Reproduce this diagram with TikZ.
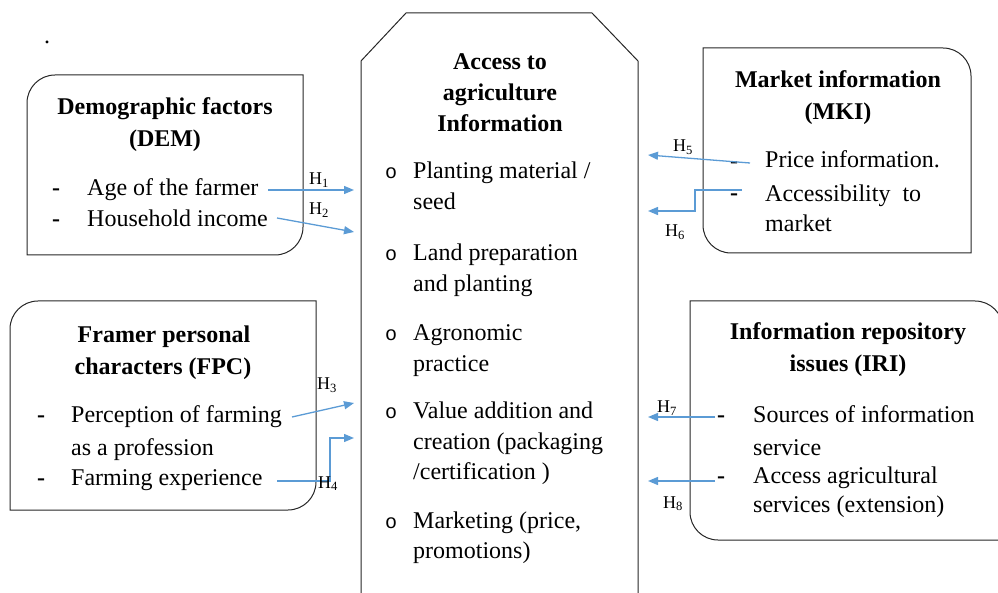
\documentclass[tikz,border=0pt]{standalone}
\usepackage{fontspec}
\setmainfont{Liberation Serif}
\newfontfamily\bulletfont{Liberation Mono}
\usetikzlibrary{arrows.meta}
\definecolor{arrowblue}{RGB}{91,155,213}
\begin{document}
\begin{tikzpicture}[x=1pt,y=1pt,
  txt/.style={anchor=base west,inner sep=0pt,font=\fontsize{24}{31}\selectfont},
  dashitem/.style={anchor=base west,inner sep=0pt,font=\fontsize{24}{31}\selectfont\bfseries},
  ttl/.style={anchor=base,inner sep=0pt,font=\fontsize{24}{31}\selectfont\bfseries},
  hlab/.style={anchor=base west,inner sep=0pt,font=\fontsize{18}{20}\selectfont},
  bul/.style={anchor=base west,inner sep=0pt,font=\bulletfont\fontsize{20}{24}\selectfont},
  frame/.style={draw=black!85,line width=1pt},
  link/.style={draw=arrowblue,line width=1.3pt,-{Triangle[length=10pt,width=8pt]}}]
\useasboundingbox (0,0) rectangle (998,592);

% stray full stop at the top left
\node[txt] (dot) at (44,548) {.};

% central frame with chamfered top corners (open at the bottom)
\draw[frame] (361,-2) -- (361,531) -- (406,579) -- (592,579) -- (638,531) -- (638,-2);

% Demographic factors box
\draw[frame] (27,337) -- (27,489) arc[start angle=180,end angle=90,radius=28]
  -- (303,517) -- (303,365) arc[start angle=0,end angle=-90,radius=28] -- cycle;
% Farmer personal characters box
\draw[frame] (10,82) -- (10,263) arc[start angle=180,end angle=90,radius=28]
  -- (316,291) -- (316,110) arc[start angle=0,end angle=-90,radius=28] -- cycle;
% Market information box
\draw[frame] (703,544) -- (943,544) arc[start angle=90,end angle=0,radius=28]
  -- (971,339) -- (731,339) arc[start angle=270,end angle=180,radius=28] -- cycle;
% Information repository box (runs past the right margin)
\draw[frame] (690,291) -- (975,291) arc[start angle=90,end angle=0,radius=28]
  -- (1003,52) -- (718,52) arc[start angle=270,end angle=180,radius=28] -- cycle;

% --- Demographic factors
\node[ttl] (demT1) at (165,477) {Demographic factors};
\node[ttl] (demT2) at (165,445) {(DEM)};
\node[dashitem] (demB1) at (52,396) {-};
\node[txt] (demI1) at (87,396) {Age of the farmer};
\node[dashitem] (demB2) at (52,365) {-};
\node[txt] (demI2) at (87,365) {Household income};

% --- Farmer personal characters
\node[ttl] (fpcT1) at (164,249) {Framer personal};
\node[ttl] (fpcT2) at (163,217) {characters (FPC)};
\node[dashitem] (fpcB1) at (37,169) {-};
\node[txt] (fpcI1) at (71,169) {Perception of farming};
\node[txt] (fpcI1b) at (71,137) {as a profession};
\node[dashitem] (fpcB2) at (37,107) {-};
\node[txt] (fpcI2) at (71,107) {Farming experience};

% --- Access to agriculture information
\node[ttl] (accT1) at (500,522) {Access to};
\node[ttl] (accT2) at (500,491) {agriculture};
\node[ttl] (accT3) at (500,460) {Information};
\node[bul] (accB1) at (385,413) {o};
\node[txt] (accI1) at (413,413) {Planting material /};
\node[txt] (accI1b) at (413,382) {seed};
\node[bul] (accB2) at (385,331) {o};
\node[txt] (accI2) at (413,331) {Land preparation};
\node[txt] (accI2b) at (413,300) {and planting};
\node[bul] (accB3) at (385,251) {o};
\node[txt] (accI3) at (413,251) {Agronomic};
\node[txt] (accI3b) at (413,220) {practice};
\node[bul] (accB4) at (385,174) {o};
\node[txt] (accI4) at (413,174) {Value addition and};
\node[txt] (accI4b) at (413,143) {creation (packaging};
\node[txt] (accI4c) at (413,113) {/certification )};
\node[bul] (accB5) at (385,64) {o};
\node[txt] (accI5) at (413,64) {Marketing (price,};
\node[txt] (accI5b) at (413,34) {promotions)};

% --- Market information
\node[ttl] (mkiT1) at (838,504) {Market information};
\node[ttl] (mkiT2) at (838,472) {(MKI)};
\node[dashitem] (mkiB1) at (730,423) {-};
\node[txt] (mkiI1) at (765,424) {Price information.};
\node[dashitem] (mkiB2) at (730,391) {-};
\node[txt] (mkiI2) at (765,390) {Accessibility\ \ to};
\node[txt] (mkiI2b) at (765,360) {market};

% --- Information repository issues
\node[ttl] (iriT1) at (848,252) {Information repository};
\node[ttl] (iriT2) at (848,220) {issues (IRI)};
\node[dashitem] (iriB1) at (717,169) {-};
\node[txt] (iriI1) at (753,169) {Sources of information};
\node[txt] (iriI1b) at (753,137) {service};
\node[dashitem] (iriB2) at (717,109) {-};
\node[txt] (iriI2) at (753,109) {Access agricultural};
\node[txt] (iriI2b) at (753,80) {services (extension)};

% --- hypothesis arrows
\coordinate (h1s) at (268,402); \coordinate (h1e) at (354,402);
\coordinate (h2s) at (277,374); \coordinate (h2e) at (354,360);
\coordinate (h3s) at (292,175); \coordinate (h3e) at (354,189);
\coordinate (h4s) at (277,111); \coordinate (h4e) at (354,154);
\coordinate (h5s) at (750,429); \coordinate (h5e) at (648,437);
\coordinate (h6s) at (742,402); \coordinate (h6e) at (648,381);
\coordinate (h7s) at (715,175); \coordinate (h7e) at (648,175);
\coordinate (h8s) at (715,111); \coordinate (h8e) at (648,111);

\draw[link] (h1s) -- (h1e);
\draw[link] (h2s) -- (h2e);
\draw[link] (h3s) -- (h3e);
\draw[link] (h4s) -- (330,111) -- (330,154) -- (h4e);
\draw[link] (h5s) -- (h5e);
\draw[link] (h6s) -- (695,402) -- (695,381) -- (h6e);
\draw[link] (h7s) -- (h7e);
\draw[link] (h8s) -- (h8e);

\node[hlab] (lab1) at (309,407) {H\textsubscript{1}};
\node[hlab] (lab2) at (309,377) {H\textsubscript{2}};
\node[hlab] (lab3) at (317,202) {H\textsubscript{3}};
\node[hlab] (lab4) at (318,104) {H\textsubscript{4}};
\node[hlab] (lab5) at (673,440) {H\textsubscript{5}};
\node[hlab] (lab6) at (665,355) {H\textsubscript{6}};
\node[hlab] (lab7) at (657,179) {H\textsubscript{7}};
\node[hlab] (lab8) at (663,84) {H\textsubscript{8}};
\end{tikzpicture}
\end{document}
